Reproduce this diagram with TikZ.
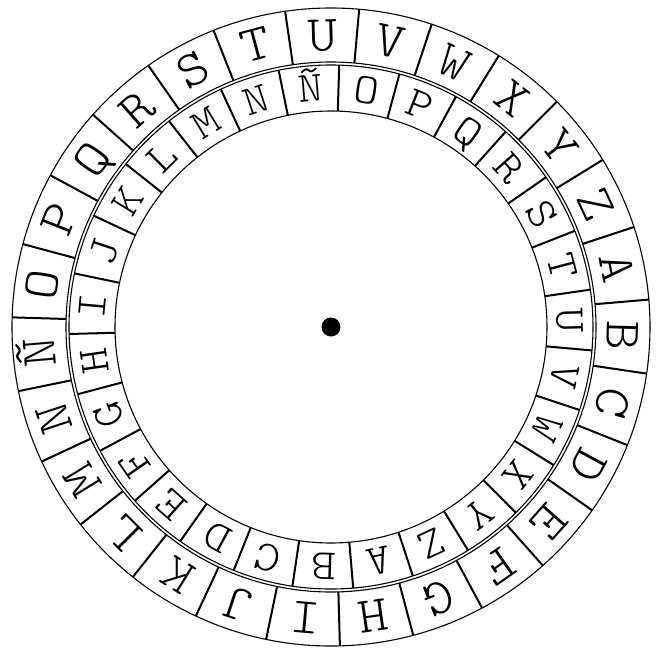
\documentclass[tikz,border=0pt]{standalone}
\usepackage{fontspec}
\newfontfamily\wheelfont[FakeStretch=1.1]{Latin Modern Mono Light}
\begin{document}
\begin{tikzpicture}[x=1pt,y=1pt,
  ring/.style={line width=1.1pt},
  divider/.style={line width=2pt},
  outl/.style={font=\fontsize{51}{51}\selectfont\wheelfont, inner sep=0pt, text height=31pt, text depth=0pt},
  inl/.style={font=\fontsize{43}{43}\selectfont\wheelfont, inner sep=0pt, text height=26pt, text depth=0pt}]
\useasboundingbox (-331,-322) rectangle (325,327);
\coordinate (c) at (0,0);
\draw[ring] (c) circle (319);
\draw[ring] (c) circle (265);
\draw[ring] (c) circle (262);
\draw[ring] (c) circle (216);
\fill (c) circle (9.5);
% outer ring
\foreach \L [count=\i from 0] in {U,V,W,X,Y,Z,A,B,C,D,E,F,G,H,I,J,K,L,M,N,Ñ,O,P,Q,R,S,T} {
  \pgfmathsetmacro\th{-1.6+\i*360/27}
  \node[outl, rotate=-\th] (o\i) at ({90-\th}:292) {\L};
  \draw[divider] ({90-\th-6.6667}:265) -- ({90-\th-6.6667}:319);
}
% inner ring
\foreach \L [count=\i from 0] in {O,P,Q,R,S,T,U,V,W,X,Y,Z,A,B,C,D,E,F,G,H,I,J,K,L,M,N,Ñ} {
  \pgfmathsetmacro\th{8.47+\i*360/27}
  \node[inl, rotate=-\th] (n\i) at ({90-\th}:239) {\L};
  \draw[divider] ({90-\th-6.6667}:216) -- ({90-\th-6.6667}:262);
}
\end{tikzpicture}
\end{document}
